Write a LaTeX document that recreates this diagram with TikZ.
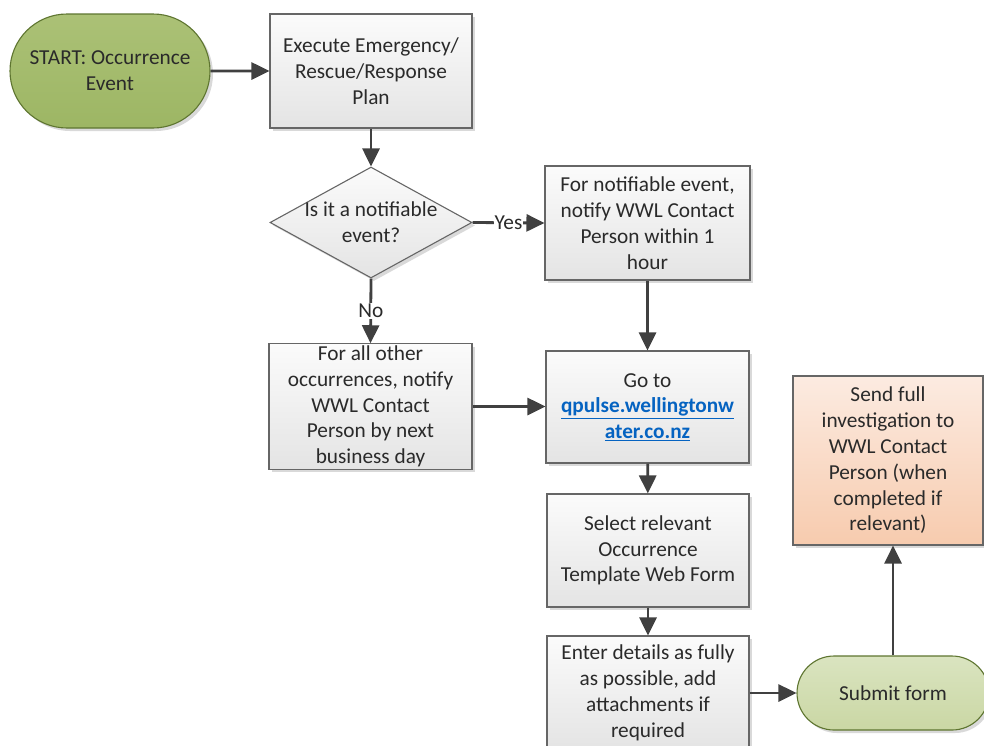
\documentclass[tikz,border=0pt]{standalone}
\usepackage{fontspec}
\setmainfont{Carlito}
\usetikzlibrary{shapes.geometric,shapes.misc,shadows,arrows.meta}
\definecolor{txt}{HTML}{2A2A2A}
\definecolor{boxline}{HTML}{666666}
\definecolor{boxtop}{HTML}{FBFBFB}
\definecolor{boxgray}{HTML}{E4E4E4}
\definecolor{arrowc}{HTML}{404040}
\definecolor{greenA}{HTML}{ABC176}
\definecolor{greenB}{HTML}{9DB664}
\definecolor{greenline}{HTML}{5E7530}
\definecolor{lgreenA}{HTML}{DAE4C0}
\definecolor{lgreenB}{HTML}{CAD7A4}
\definecolor{orangeA}{HTML}{FCEBE1}
\definecolor{orangeB}{HTML}{F7CBAE}
\definecolor{link}{HTML}{0563C1}
\begin{document}
\begin{tikzpicture}[x=1pt,y=-1pt,
  txtstyle/.style={text=txt, align=center, font=\fontsize{21.3}{25.8}\selectfont, inner sep=2pt},
  base/.style={txtstyle,
    drop shadow={shadow xshift=3pt, shadow yshift=-3pt, fill=black, opacity=0.15}},
  box/.style={base, rectangle, draw=boxline, line width=1.1pt, top color=boxtop, bottom color=boxgray},
  startbox/.style={base, rounded rectangle, draw=greenline, line width=1.1pt, top color=greenA, bottom color=greenB},
  submitbox/.style={base, rounded rectangle, draw=greenline, line width=1.1pt, top color=lgreenA, bottom color=lgreenB},
  sendbox/.style={base, rectangle, draw=boxline, line width=1.1pt, top color=orangeA, bottom color=orangeB},
  decbox/.style={base, diamond, draw=boxline, line width=1.1pt, top color=boxtop, bottom color=boxgray, inner sep=0pt},
  arr/.style={draw=arrowc, line width=2.8pt, -{Triangle[length=18pt,width=17pt]}},
  lbl/.style={txtstyle, fill=white, inner sep=1pt}
]
\useasboundingbox (0,0) rectangle (984,745);

\node[startbox, minimum width=204pt, minimum height=114pt] (start) at (110,71) {START: Occurrence\\Event};
\node[box, minimum width=202pt, minimum height=114pt] (exec) at (371,71) {Execute Emergency/\\Rescue/Response\\Plan};
\node[decbox, minimum width=202pt, minimum height=111pt,
  label={[txtstyle]center:Is it a notifiable\\event?}] (dec) at (371,222.5) {};
\node[box, minimum width=205pt, minimum height=114pt] (notify) at (647.5,223) {For notifiable event,\\notify WWL Contact\\Person within 1\\hour};
\node[box, minimum width=203pt, minimum height=123pt] (other) at (370.5,406.5) {For all other\\occurrences, notify\\WWL Contact\\Person by next\\business day};
\node[box, minimum width=203pt, minimum height=112pt] (goto) at (647.5,407) {Go to\\{\color{link}\bfseries\underline{qpulse.wellingtonw}}\\{\color{link}\bfseries\underline{ater.co.nz}}};
\node[box, minimum width=202pt, minimum height=113pt] (select) at (648,550.5) {Select relevant\\Occurrence\\Template Web Form};
\node[box, minimum width=202pt, minimum height=114pt] (enter) at (648,693) {Enter details as fully\\as possible, add\\attachments if\\required};
\node[submitbox, minimum width=196pt, minimum height=74pt] (submit) at (893,693) {Submit form};
\node[sendbox, minimum width=190pt, minimum height=169pt] (send) at (888,460.5) {Send full\\investigation to\\WWL Contact\\Person (when\\completed if\\relevant)};

\draw[arr] (start) -- (exec);
\draw[arr] (exec) -- (dec);
\draw[arr] (dec.east) -- node[lbl]{Yes} (notify.west);
\draw[arr] (dec.south) -- node[lbl]{No} (other.north);
\draw[arr] (notify) -- (goto);
\draw[arr] (other.east) -- (other.east -| goto.west);
\draw[arr] (goto) -- (select);
\draw[arr] (select) -- (enter);
\draw[arr] (enter.east) -- (submit.west);
\draw[arr] (submit.north) -- (submit.north |- send.south);
\end{tikzpicture}
\end{document}
